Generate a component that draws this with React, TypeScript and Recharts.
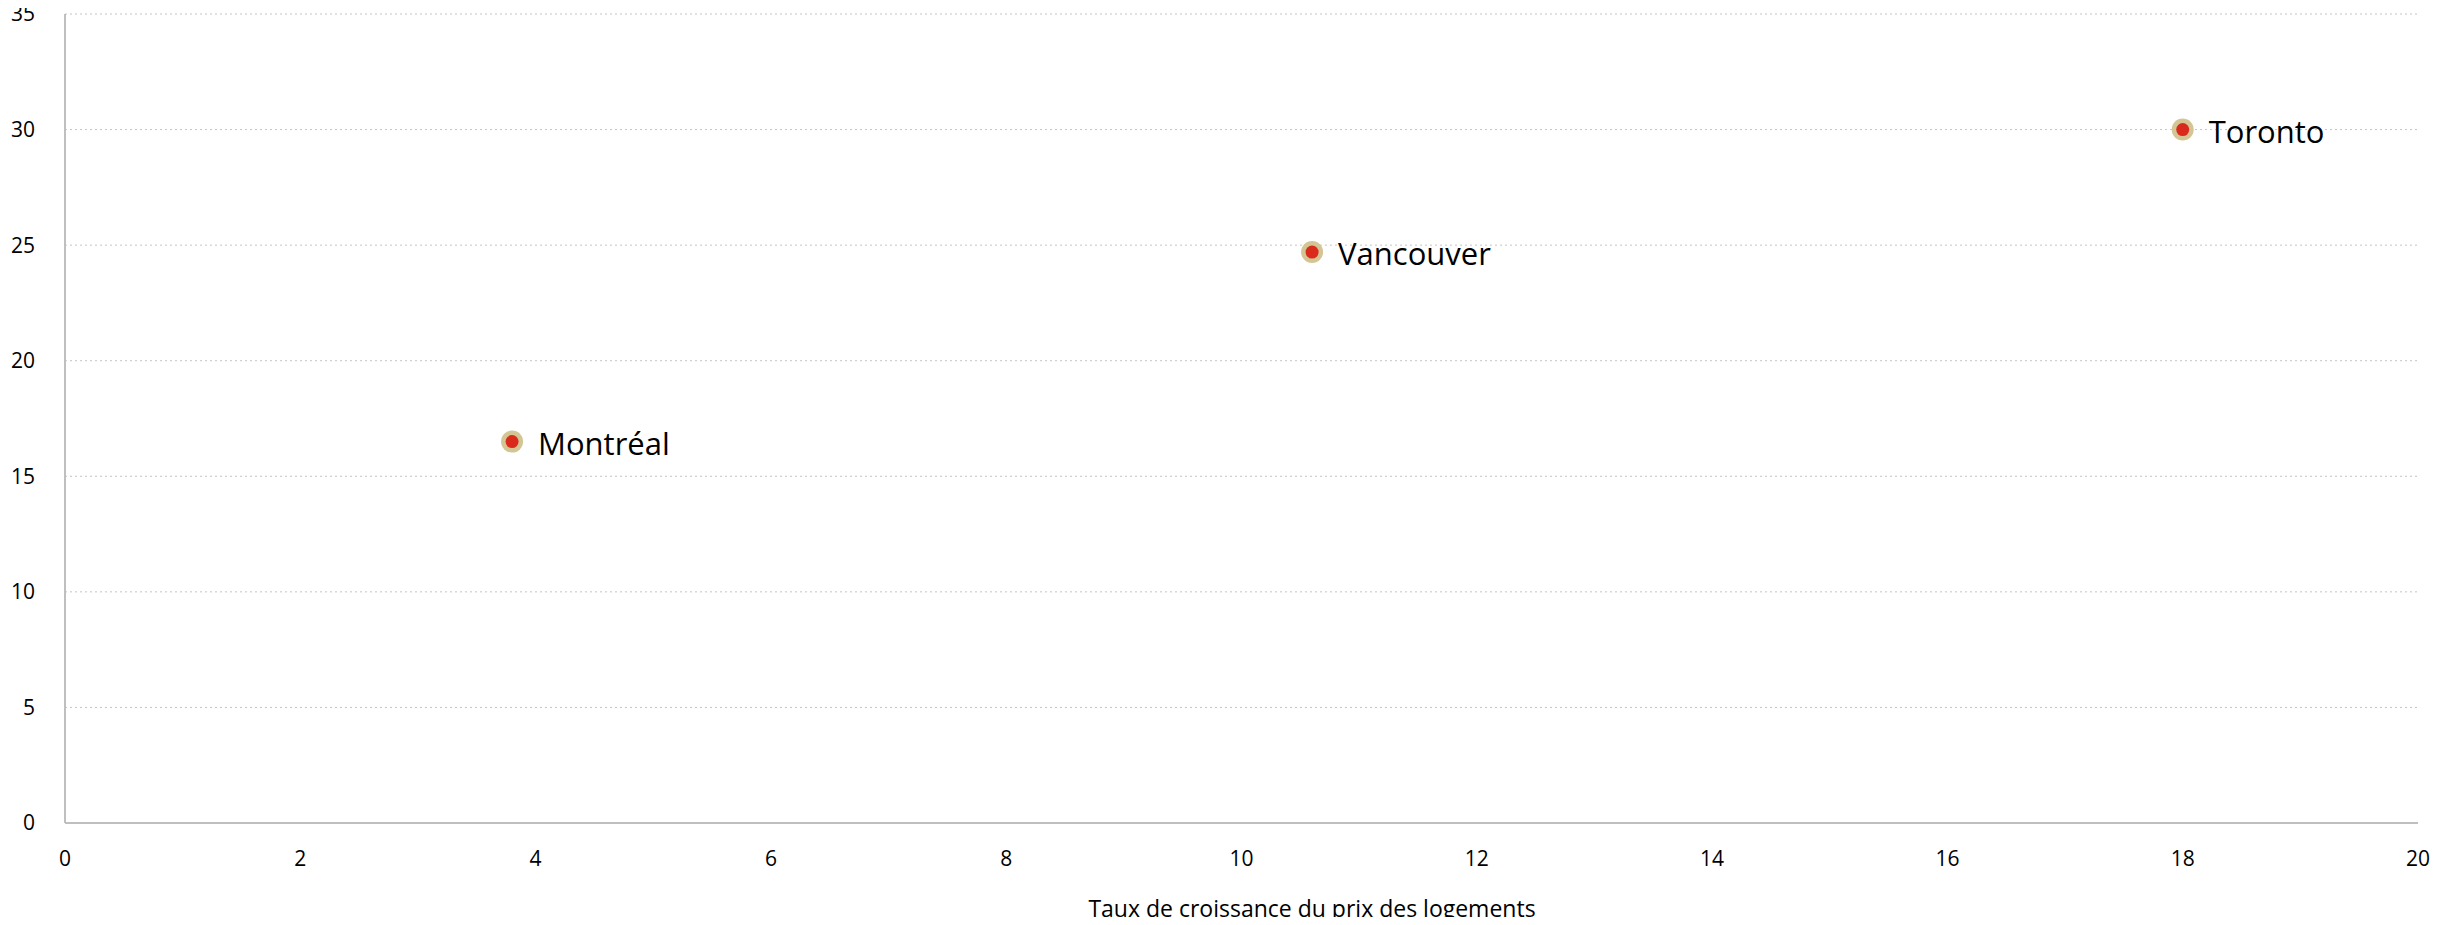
import { ScatterChart, Scatter, XAxis, YAxis, CartesianGrid, LabelList } from 'recharts';

const cities = ['Montréal', 'Vancouver', 'Toronto'];
const housingGrowth = [3.8, 10.6, 18.0];
const yValues = [16.5, 24.7, 30.0];
const xTicks = [0, 2, 4, 6, 8, 10, 12, 14, 16, 18, 20];
const yTicks = [0, 5, 10, 15, 20, 25, 30, 35];

const data = cities.map((name, i) => ({ name, x: housingGrowth[i], y: yValues[i] }));

const FONT = '"Open Sans", sans-serif';

const Dot = (props: any) => {
  const { cx, cy } = props;
  return (
    <g>
      <circle cx={cx} cy={cy} r={11} fill="#D3C594" />
      <circle cx={cx} cy={cy} r={6.5} fill="#DA2A1C" />
    </g>
  );
};

const CityLabel = (props: any) => {
  const { x, y, width, height, value } = props;
  return (
    <text x={x + width / 2 + 26} y={y + height / 2 + 1} dominantBaseline="central" fontSize={31} fontFamily={FONT} fill="#000">
      {value}
    </text>
  );
};

// the reference's axis title sits a bit right of the plot centre
const XTitle = () => (
  <text x={1312} y={908} textAnchor="middle" dominantBaseline="central" fontSize={23} fontFamily={FONT} fill="#000">
    Taux de croissance du prix des logements
  </text>
);

export default function App() {
  return (
    <div style={{ margin: -8, width: 2463, height: 925, background: '#fff' }}>
      <ScatterChart width={2463} height={925} margin={{ top: 14, right: 45, bottom: 0, left: 0 }}>
        <text x={14} y={3} fontSize={22} fontFamily={FONT} fill="#000">Taux de l'emploi pondéré</text>
        <CartesianGrid vertical={false} stroke="#C4C4C4" strokeDasharray="2 3" />
        <XAxis
          type="number"
          dataKey="x"
          domain={[0, 20]}
          ticks={xTicks}
          height={102}
          stroke="#BFBFBF"
          strokeWidth={2}
          tickLine={false}
          tick={{ fill: '#000', fontSize: 21, fontFamily: FONT }}
          tickMargin={22}
          label={<XTitle />}
        />
        <YAxis
          type="number"
          dataKey="y"
          domain={[0, 35]}
          ticks={yTicks}
          width={65}
          stroke="#BFBFBF"
          strokeWidth={2}
          tickLine={false}
          tick={{ fill: '#000', fontSize: 21, fontFamily: FONT }}
          tickMargin={24}
        />
        <Scatter data={data} shape={<Dot />} isAnimationActive={false}>
          <LabelList dataKey="name" content={<CityLabel />} />
        </Scatter>
      </ScatterChart>
    </div>
  );
}
